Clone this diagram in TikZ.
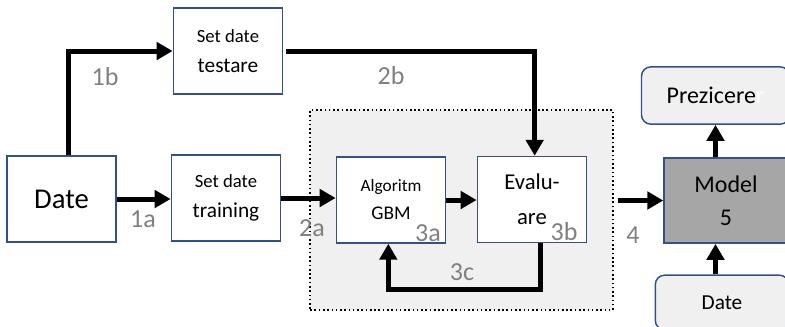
\documentclass[tikz,border=0pt]{standalone}
\usepackage{fontspec}
\setmainfont{Carlito}
\usetikzlibrary{arrows.meta}
\definecolor{boxblue}{HTML}{2F528F}
\definecolor{lblgray}{HTML}{808080}
\definecolor{panel}{HTML}{F0F0F0}
\definecolor{modelgray}{HTML}{A6A6A6}
\newcommand{\fs}[2]{\fontsize{#1}{#2}\selectfont}

\begin{document}
\begin{tikzpicture}
  [x=.75pt,y=-.75pt,every node/.style={align=center,inner sep=0pt}]
  \tikzstyle{box} = [draw=boxblue,line width=1.1pt,fill=white,minimum width=82pt,minimum height=64.5pt]
  \tikzstyle{softbox} = [draw=boxblue,line width=1.1pt,fill=panel,rounded corners=7pt]
  \tikzstyle{lbl} = [text=lblgray,font=\fs{19.5}{20}]
  \tikzstyle{flow} = [line width=3.75pt,line join=miter,-{Triangle[length=12pt,width=13pt]}]
  \useasboundingbox (0,0) rectangle (785,326);

  % dotted panel round the training loop
  \node[draw,dotted,line width=1.2pt,fill=panel,minimum width=227pt,minimum height=150pt] (panel) at (461.5,210) {};

  \node[box,font=\fs{21.5}{24}] (date) at (61.5,199) {Date};
  \node[box,font=\fs{16}{22.5}] (testare) at (228,51) {{\fs{14}{17}Set date}\\testare};
  \node[box,font=\fs{16}{22.5}] (training) at (226,198) {{\fs{14}{17}Set date}\\training};
  \node[box,font=\fs{14.5}{21}] (algo) at (391,200) {{\fs{13}{16}Algoritm}\\GBM};
  \node[box,font=\fs{17}{26}] (eval) at (532,199.5) {Evalu-\\are\hspace{10pt}};
  \node[box,fill=modelgray,minimum width=93pt,minimum height=64pt,font=\fs{18}{26}] (model) at (726,200.5) {\raisebox{-9pt}{Model}\\\raisebox{-8pt}{5}};
  \node[softbox,minimum width=111pt,minimum height=43pt,font=\fs{18}{20}] (prez) at (715.5,95.5) {Prezicere\textcolor{white}{r}};
  \node[softbox,minimum width=100pt,minimum height=41pt,font=\fs{16}{20}] (newdate) at (722,302.5) {Date};

  \node[lbl] (l1b) at (105,77) {1b};
  \node[lbl] (l1a) at (143,219) {1a};
  \node[lbl] (l2b) at (391,76) {2b};
  \node[lbl] (l2a) at (312,228) {2a};
  \node[lbl] (l3a) at (428,233) {3a};
  \node[lbl] (l3b) at (564,232) {3b};
  \node[lbl] (l3c) at (462,272) {3c};
  \node[lbl] (l4) at (633,235) {4};

  \draw[flow] ([xshift=5pt]date.north) |- (testare.west);
  \draw[flow] ([xshift=2pt]testare.east) -| ([xshift=2pt]eval.north);
\foreach \source /\dest in {date/training,training/algo,algo/eval}
   \draw[flow] (\source.east) -- (\source.east -| \dest.west);
  \draw[flow] ([xshift=6pt]eval.south) -- ++(0,-35pt) -| ([xshift=-2pt]algo.south);
  \draw[flow] ([xshift=3pt]panel.east |- model.west) -- (model.west);
  \draw[flow] (prez.south |- model.north) -- (prez.south);
  \draw[flow] (prez.south |- newdate.north) -- (prez.south |- model.south);

\end{tikzpicture}
\end{document}
